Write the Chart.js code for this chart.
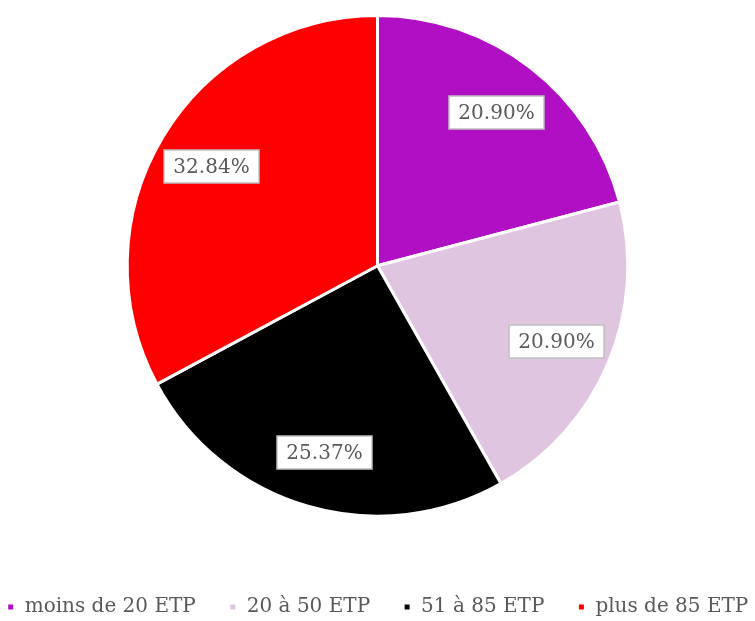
<!DOCTYPE html>
<html>
<head>
<meta charset="utf-8">
<script src="https://cdn.jsdelivr.net/npm/chart.js@4"></script>
<style>
  html, body { margin: 0; padding: 0; background: #ffffff; }
  #wrap { width: 755px; height: 621px; }
</style>
</head>
<body>
<div id="wrap"><canvas id="etpChart"></canvas></div>
<script>
// Categories and values (percent of establishments)
const categories = ["moins de 20 ETP", "20 à 50 ETP", "51 à 85 ETP", "plus de 85 ETP"];
const shares = [20.90, 20.90, 25.37, 32.84];
const sliceColors = ["#b00fc4", "#e0c5e0", "#000000", "#ff0000"];

const FONT = "'DejaVu Serif', serif";

// Draws the percentage inside each slice, in a white box with gray border
const valueBoxes = {
  id: "valueBoxes",
  afterDatasetsDraw(chart) {
    const ctx = chart.ctx;
    const meta = chart.getDatasetMeta(0);
    ctx.save();
    ctx.font = "20px " + FONT;
    ctx.textAlign = "center";
    ctx.textBaseline = "middle";
    meta.data.forEach((arc, i) => {
      const p = arc.getProps(["x", "y", "startAngle", "endAngle", "outerRadius"], true);
      const mid = (p.startAngle + p.endAngle) / 2;
      const r = p.outerRadius * 0.775;
      const x = Math.round(p.x + Math.cos(mid) * r) + 0.5;
      const y = Math.round(p.y + Math.sin(mid) * r) + 0.5;
      const txt = shares[i].toFixed(2) + "%";
      const w = Math.round(ctx.measureText(txt).width + 19);
      const h = 33;
      ctx.fillStyle = "#ffffff";
      ctx.fillRect(x - w / 2, y - h / 2, w, h);
      ctx.strokeStyle = "#bfbfbf";
      ctx.lineWidth = 1.5;
      ctx.strokeRect(x - w / 2, y - h / 2, w, h);
      ctx.fillStyle = "#595959";
      ctx.fillText(txt, x, y + 1);
    });
    ctx.restore();
  }
};

const chartCtx = document.getElementById("etpChart").getContext("2d");

const etpChart = new Chart(chartCtx, {
  type: "pie",
  data: {
    labels: categories,
    datasets: [
      {
        data: shares,
        backgroundColor: sliceColors,
        borderColor: "#ffffff",
        borderWidth: 3,
      },
    ],
  },
  options: {
    responsive: true,
    maintainAspectRatio: false,
    animation: false,
    layout: { padding: { top: 14, left: -30, right: -30, bottom: -6 } },
    plugins: {
      tooltip: { enabled: false },
      legend: {
        position: "bottom",
        // empty title only used as a spacer between pie and legend row
        title: {
          display: true,
          text: "",
          font: { size: 12 },
          padding: { top: 0, bottom: 32 },
        },
        labels: {
          boxWidth: 8,
          boxHeight: 8,
          padding: 33,
          color: "#595959",
          font: { family: FONT, size: 20 },
        },
      },
    },
  },
  plugins: [valueBoxes],
});
</script>
</body>
</html>
